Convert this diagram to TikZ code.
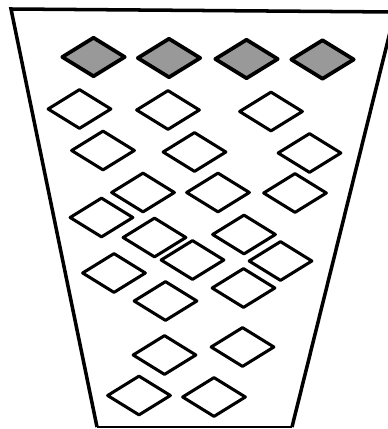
\documentclass[tikz,border=0pt]{standalone}
\usepackage{tikz}
\usetikzlibrary{shapes.geometric}

\begin{document}
\begin{tikzpicture}[
  x=0.03cm, y=-0.03cm,
  tile/.style={draw, diamond, line width=2.6pt, line join=round, inner sep=0pt, minimum width=1.92cm, minimum height=1.2cm},
  shaded/.style={tile, line width=3.2pt, fill=black!40},
  cup/.style={line width=3pt, line join=miter}
]

\useasboundingbox (0,0) rectangle (387,429);

% Cup outline
\draw[cup] (97,427) -- (11,9) -- (395,12) -- (292,427);
\draw[line width=1.2pt] (97,427) -- (292,427);

% Top row (shaded)
\node[shaded] (g1) at (93.5,57) {};
\node[shaded] (g2) at (169,58) {};
\node[shaded] (g3) at (246.5,59) {};
\node[shaded] (g4) at (322.5,59.5) {};

% Row 1
\node[tile] (a1) at (79.5,109) {};
\node[tile] (a2) at (168,110) {};
\node[tile] (a3) at (271,111.5) {};

% Row 2
\node[tile] (b1) at (103,150.5) {};
\node[tile] (b2) at (194.5,152) {};
\node[tile] (b3) at (309.5,153) {};

% Row 3
\node[tile] (c1) at (143,192.5) {};
\node[tile] (c2) at (218,192.5) {};
\node[tile] (c3) at (295,193) {};

% Middle cluster
\node[tile] (d1) at (101.5,217.5) {};
\node[tile] (d2) at (154.5,237.5) {};
\node[tile] (d3) at (244,234.5) {};
\node[tile] (d4) at (192.5,260) {};
\node[tile] (d5) at (280.5,261) {};
\node[tile] (d6) at (114,273) {};
\node[tile] (d7) at (243.5,288) {};
\node[tile] (d8) at (165.5,301) {};

% Bottom rows
\node[tile] (e1) at (164.5,355) {};
\node[tile] (e2) at (242.5,347) {};
\node[tile] (f1) at (139,395.5) {};
\node[tile] (f2) at (214,397) {};

\end{tikzpicture}
\end{document}
